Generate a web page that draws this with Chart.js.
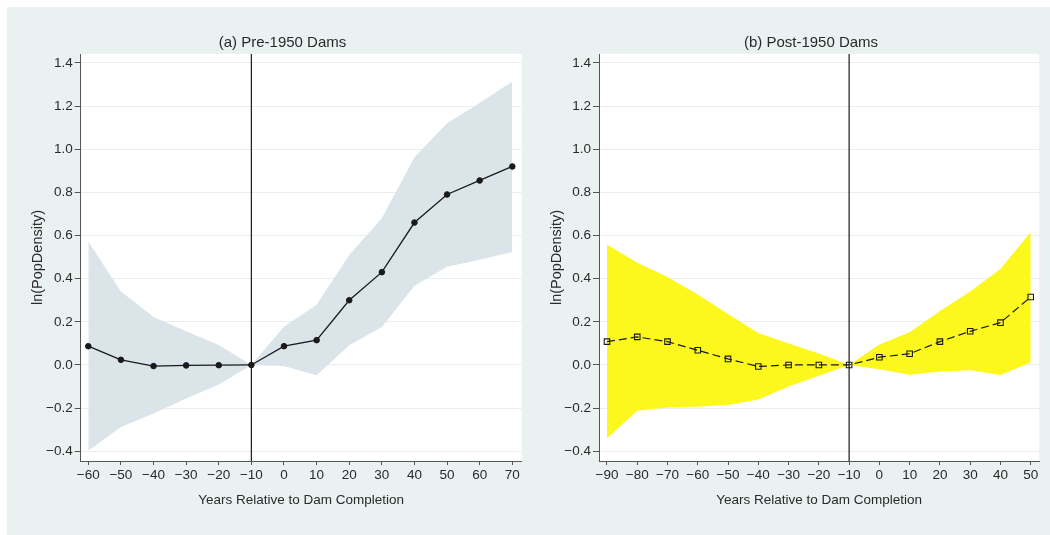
<!DOCTYPE html>
<html><head><meta charset="utf-8">
<script src="https://cdn.jsdelivr.net/npm/chart.js@4.4.1/dist/chart.umd.min.js"></script>
<style>
html,body{margin:0;padding:0;background:#fff;width:1050px;height:535px;overflow:hidden;}
#panel{position:absolute;left:7px;top:7px;width:1043px;height:528px;background:#e9f1f1;}
canvas{position:absolute;}
#cA{left:7px;top:7px;}
#cB{left:535px;top:7px;}
</style></head><body>
<div id="panel"></div>
<canvas id="cA" width="551" height="528" style="width:551px;height:528px"></canvas>
<canvas id="cB" width="552" height="528" style="width:552px;height:528px"></canvas>
<script>
// ---- data ----
const yearsPre  = [-60,-50,-40,-30,-20,-10,0,10,20,30,40,50,60,70];
const estPre    = [0.087,0.024,-0.005,-0.002,-0.001,0,0.087,0.115,0.30,0.43,0.66,0.79,0.855,0.92];
const upperPre  = [0.572,0.34,0.222,0.156,0.092,0,0.177,0.279,0.51,0.68,0.962,1.12,1.214,1.313];
const lowerPre  = [-0.398,-0.288,-0.225,-0.155,-0.09,0,-0.005,-0.048,0.091,0.176,0.367,0.455,0.488,0.524];

const yearsPost = [-90,-80,-70,-60,-50,-40,-30,-20,-10,0,10,20,30,40,50];
const estPost   = [0.108,0.13,0.108,0.068,0.028,-0.007,0,0,0,0.036,0.052,0.108,0.156,0.196,0.315];
const upperPost = [0.558,0.474,0.408,0.326,0.236,0.148,0.10,0.053,0,0.095,0.152,0.25,0.34,0.445,0.616];
const lowerPost = [-0.34,-0.212,-0.197,-0.194,-0.186,-0.16,-0.10,-0.05,0,-0.02,-0.045,-0.03,-0.025,-0.046,0.011];

const yTickValues = [-0.4,-0.2,0,0.2,0.4,0.6,0.8,1.0,1.2,1.4];
const xTicksPre   = [-60,-50,-40,-30,-20,-10,0,10,20,30,40,50,60,70];
const xTicksPost  = [-90,-80,-70,-60,-50,-40,-30,-20,-10,0,10,20,30,40,50];
const referenceYear = -10;

const titlePre  = '(a) Pre-1950 Dams';
const titlePost = '(b) Post-1950 Dams';
const xTitle = 'Years Relative to Dam Completion';
const yTitle = 'ln(PopDensity)';

// ---- styling ----
const FAMILY = '"Liberation Sans", Arial, Helvetica, sans-serif';
const TXT = '#2a2a2a';
const AXIS = '#555';
const GRID = '#e8eef0';

function minusFmt(s){ return s.replace('-', '\u2212'); }
function fmtY(v){ if (Math.abs(v) < 1e-9) return '0.0'; return minusFmt(v.toFixed(1)); }
function fmtX(v){ if (Math.abs(v) < 1e-9) return '0'; return minusFmt(String(Math.round(v))); }

const chartAreaBg = {
  id: 'chartAreaBg',
  beforeDraw(chart){
    const {ctx, chartArea:a} = chart;
    ctx.save(); ctx.fillStyle = '#ffffff';
    ctx.fillRect(a.left, a.top, a.right - a.left, a.bottom - a.top);
    ctx.restore();
  }
};
const refLine = {
  id: 'refLine',
  beforeDatasetsDraw(chart){
    const {ctx, chartArea:a, scales} = chart;
    const px = scales.x.getPixelForValue(referenceYear);
    ctx.save(); ctx.strokeStyle = '#1a1a1a'; ctx.lineWidth = 1.2;
    ctx.beginPath(); ctx.moveTo(px, a.top); ctx.lineTo(px, a.bottom); ctx.stroke();
    ctx.restore();
  }
};

function pts(xs, ys){ return xs.map((x,i)=>({x:x, y:ys[i]})); }

function makeChart(id, o){
  return new Chart(document.getElementById(id), {
    type: 'line',
    data: { datasets: [
      { data: pts(o.years, o.upper), fill: '+1', backgroundColor: o.band, borderWidth: 0, pointRadius: 0, order: 2 },
      { data: pts(o.years, o.lower), fill: false, borderWidth: 0, pointRadius: 0, order: 2 },
      { data: pts(o.years, o.est), fill: false, borderColor: '#1a1a1a', borderWidth: o.lineWidth,
        borderDash: o.dash, pointStyle: o.pointStyle, pointRadius: o.pointRadius,
        pointBackgroundColor: o.pointFill, pointBorderColor: '#1a1a1a', pointBorderWidth: o.pointBorderWidth,
        tension: 0, order: 0 }
    ]},
    options: {
      responsive: false, animation: false, devicePixelRatio: 1,
      layout: { padding: 0 },
      plugins: {
        legend: { display: false }, tooltip: { enabled: false },
        title: { display: true, text: o.title, color: TXT, fullSize: true,
          font: { family: FAMILY, size: 15, weight: 'normal', lineHeight: 1.2 },
          padding: { top: 27.3, bottom: 1.7 } }
      },
      scales: {
        x: {
          type: 'linear', min: o.xMin, max: o.xMax,
          afterBuildTicks: s => { s.ticks = o.xTicks.map(v => ({value: v})); },
          afterFit: s => { s.height = 74; s.paddingLeft = 0; s.paddingRight = o.padRight; },
          ticks: { color: TXT, font: { family: FAMILY, size: 13.5 }, padding: 2, autoSkip: false,
                   maxRotation: 0, callback: v => fmtX(v) },
          grid: { drawOnChartArea: false, drawTicks: true, tickLength: 4, tickColor: AXIS, tickWidth: 1 },
          border: { display: true, color: AXIS, width: 1 },
          title: { display: true, text: xTitle, color: TXT,
                   font: { family: FAMILY, size: 13.5, lineHeight: 1.2 }, padding: { top: 0, bottom: 27 } }
        },
        y: {
          type: 'linear', min: -0.445, max: 1.441,
          afterBuildTicks: s => { s.ticks = yTickValues.map(v => ({value: v})); },
          afterFit: s => { s.width = o.yWidth; },
          ticks: { color: TXT, font: { family: FAMILY, size: 13.5 }, padding: 2, callback: v => fmtY(v) },
          grid: { color: GRID, lineWidth: 1, drawTicks: true, tickLength: 6, tickColor: AXIS, tickWidth: 1 },
          border: { display: true, color: AXIS, width: 1 },
          title: { display: true, text: yTitle, color: TXT,
                   font: { family: FAMILY, size: 14.5, lineHeight: 1.2 }, padding: { top: o.yTitlePad, bottom: 0 } }
        }
      }
    },
    plugins: [chartAreaBg, refLine]
  });
}

makeChart('cA', {
  title: titlePre, years: yearsPre, est: estPre, upper: upperPre, lower: lowerPre,
  xTicks: xTicksPre, xMin: -62.33, xMax: 72.88, padRight: 36.3, yWidth: 73.7, yTitlePad: 21.9,
  band: '#dae4e9', lineWidth: 1.3, dash: [], pointStyle: 'circle', pointRadius: 2.8,
  pointFill: '#1a1a1a', pointBorderWidth: 1
});
makeChart('cB', {
  title: titlePost, years: yearsPost, est: estPost, upper: upperPost, lower: lowerPost,
  xTicks: xTicksPost, xMin: -92.64, xMax: 52.84, padRight: 47.7, yWidth: 64, yTitlePad: 13.2,
  band: '#fcf81e', lineWidth: 1.2, dash: [8,4], pointStyle: 'rect', pointRadius: 3.9,
  pointFill: 'rgba(0,0,0,0)', pointBorderWidth: 1.1
});
</script>
</body></html>
